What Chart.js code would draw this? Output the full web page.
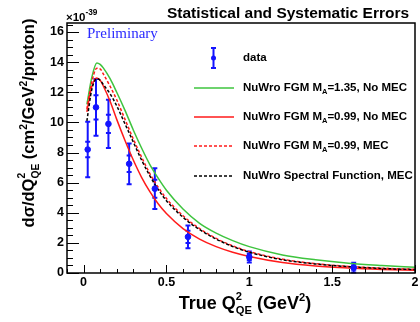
<!DOCTYPE html>
<html>
<head>
<meta charset="utf-8">
<script src="https://cdn.jsdelivr.net/npm/chart.js@4.4.1/dist/chart.umd.min.js"></script>
<style>
  html, body { margin: 0; padding: 0; background: #fff; }
  #wrap { position: relative; width: 420px; height: 322px; overflow: hidden;
          font-family: "Liberation Sans", Arial, sans-serif; font-weight: bold; color: #000; }
  #wrap canvas { position: absolute; left: 0; top: 0; }
  .txt { position: absolute; white-space: nowrap; line-height: 1; }
  .sp { font-size: 0.62em; position: relative; top: -0.72em; }
  .sb { font-size: 0.65em; position: relative; top: 0.35em; }
  .ss { position: relative; display: inline-block; font-size: 0.62em; }
  .ss .s1 { position: absolute; left: 0; top: -0.84em; }
  .ss .s2 { position: relative; top: 0.45em; }
</style>
</head>
<body>
<div id="wrap">
  <canvas id="c" width="420" height="322" style="width:420px;height:322px"></canvas>

  <div class="txt" style="left:167px; top:5px; font-size:15.5px;">Statistical and Systematic Errors</div>
  <div class="txt" style="left:66px; top:12px; font-size:11.5px;">&times;10<span class="sp" style="font-size:0.72em">-39</span></div>
  <div class="txt" style="left:87px; top:26px; font-size:15px; font-family:'Liberation Serif', serif; font-weight:normal; color:#2a2aff;">Preliminary</div>

  <div class="txt" style="left:243px; top:52px; font-size:11.5px;">data</div>
  <div class="txt" style="left:243px; top:82px; font-size:11.5px;">NuWro FGM M<span class="sb">A</span>=1.35, No MEC</div>
  <div class="txt" style="left:243px; top:111px; font-size:11.5px;">NuWro FGM M<span class="sb">A</span>=0.99, No MEC</div>
  <div class="txt" style="left:243px; top:140px; font-size:11.5px;">NuWro FGM M<span class="sb">A</span>=0.99, MEC</div>
  <div class="txt" style="left:243px; top:170px; font-size:11.5px;">NuWro Spectral Function, MEC</div>

  <div class="txt" style="left:95px; top:294px; width:300px; text-align:center; font-size:18px;">True Q<span class="ss"><span class="s1">2</span><span class="s2">QE</span></span> (GeV<span class="sp">2</span>)</div>
  <div class="txt" style="left:-122px; top:113px; width:300px; height:20px; line-height:20px; text-align:center; font-size:16.5px; transform:rotate(-90deg);">d&sigma;/dQ<span class="ss"><span class="s1">2</span><span class="s2">QE</span></span> (cm<span class="sp">2</span>/GeV<span class="sp">2</span>/proton)</div>
</div>

<script>
// curve grid in Q2 (GeV^2) and NuWro predictions (x 1e-39 cm^2/GeV^2/proton)
const qGrid = [0.02, 0.05, 0.08, 0.1, 0.12, 0.16, 0.2, 0.25, 0.3, 0.35, 0.4, 0.45, 0.5, 0.6, 0.7, 0.8, 0.9, 1.0, 1.2, 1.4, 1.6, 1.8, 2.0];
const fgm135NoMec = [11.2, 13.0, 13.95, 13.85, 13.6, 12.9, 12.0, 10.8, 9.5, 8.3, 7.2, 6.3, 5.5, 4.25, 3.3, 2.65, 2.15, 1.75, 1.2, 0.88, 0.65, 0.5, 0.38];
const fgm099NoMec = [10.7, 12.4, 12.95, 12.8, 12.4, 11.4, 10.2, 8.8, 7.5, 6.35, 5.4, 4.6, 3.95, 2.95, 2.25, 1.75, 1.38, 1.1, 0.7, 0.47, 0.33, 0.24, 0.18];
const fgm099Mec = [10.9, 12.7, 13.6, 13.55, 13.2, 12.4, 11.5, 10.2, 8.9, 7.7, 6.6, 5.7, 4.95, 3.8, 2.95, 2.3, 1.8, 1.42, 0.92, 0.62, 0.44, 0.32, 0.25];
const sfMec = [10.1, 12.2, 12.9, 12.8, 12.5, 11.9, 11.1, 9.9, 8.7, 7.5, 6.45, 5.55, 4.8, 3.7, 2.88, 2.25, 1.76, 1.38, 0.88, 0.6, 0.42, 0.3, 0.23];

// measured points
const dataQ = [0.025, 0.075, 0.15, 0.275, 0.43, 0.63, 1.0, 1.63];
const dataXsec = [8.2, 11.0, 9.9, 7.25, 5.6, 2.4, 1.06, 0.36];
const dataTotErr = [1.85, 1.88, 1.6, 1.35, 1.35, 0.75, 0.36, 0.32];
const dataStatErr = [0.52, 0.8, 0.6, 0.55, 0.6, 0.4, 0.2, 0.15];

// axis labels
const xTickVals = [0, 0.5, 1, 1.5, 2];
const xTickLabels = ['0', '0.5', '1', '1.5', '2'];
const yTickVals = [0, 2, 4, 6, 8, 10, 12, 14, 16];
const yTickLabels = ['0', '2', '4', '6', '8', '10', '12', '14', '16'];

const BLUE = '#1414ff';
const GREEN = '#3ec43e';
const RED = '#ff1a1a';

const toPts = (xs, ys) => xs.map((x, i) => ({ x: x, y: ys[i] }));

const curve = (vals, color, dash) => ({
  type: 'line',
  data: toPts(qGrid, vals),
  borderColor: color,
  borderWidth: 1.5,
  borderDash: dash || [],
  pointRadius: 0,
  fill: false,
  cubicInterpolationMode: 'monotone'
});

const rootStyle = {
  id: 'rootStyle',
  beforeDatasetsDraw(chart) {
    // error bars of the data set, total with caps and statistical caps
    const { ctx, scales: { x, y } } = chart;
    ctx.save();
    ctx.strokeStyle = BLUE;
    ctx.lineWidth = 2;
    dataQ.forEach((q, i) => {
      const px = x.getPixelForValue(q);
      const top = y.getPixelForValue(dataXsec[i] + dataTotErr[i]);
      const bot = y.getPixelForValue(dataXsec[i] - dataTotErr[i]);
      const sTop = y.getPixelForValue(dataXsec[i] + dataStatErr[i]);
      const sBot = y.getPixelForValue(dataXsec[i] - dataStatErr[i]);
      ctx.beginPath();
      ctx.moveTo(px, top); ctx.lineTo(px, bot);
      [top, bot, sTop, sBot].forEach(v => { ctx.moveTo(px - 2.5, v); ctx.lineTo(px + 2.5, v); });
      ctx.stroke();
    });
    ctx.restore();
  },
  afterDraw(chart) {
    const { ctx, chartArea: a, scales: { x, y } } = chart;
    ctx.save();
    ctx.strokeStyle = '#000';
    ctx.lineWidth = 1.5;
    ctx.strokeRect(a.left, a.top, a.right - a.left, a.bottom - a.top);
    ctx.lineWidth = 1;
    ctx.beginPath();
    for (let k = 0; k <= 33; k++) {
      const py = Math.round(y.getPixelForValue(k / 2)) + 0.5;
      if (py < a.top) continue;
      ctx.moveTo(a.left, py);
      ctx.lineTo(a.left + (k % 4 === 0 ? 12 : 6), py);
    }
    for (let k = -1; k <= 20; k++) {
      const px = Math.round(x.getPixelForValue(k / 10)) + 0.5;
      if (px <= a.left) continue;
      ctx.moveTo(px, a.bottom);
      ctx.lineTo(px, a.bottom - (k % 5 === 0 ? 8 : 4));
    }
    ctx.stroke();

    // legend samples
    const samples = [
      { c: GREEN, d: [], yy: 88 },
      { c: RED, d: [], yy: 117 },
      { c: RED, d: [3, 2], yy: 146 },
      { c: '#000', d: [3, 2], yy: 176 }
    ];
    ctx.lineWidth = 1.5;
    samples.forEach(s => {
      ctx.strokeStyle = s.c;
      ctx.setLineDash(s.d);
      ctx.beginPath();
      ctx.moveTo(194, s.yy); ctx.lineTo(234, s.yy);
      ctx.stroke();
    });
    ctx.setLineDash([]);
    ctx.strokeStyle = BLUE;
    ctx.lineWidth = 2;
    ctx.beginPath();
    ctx.moveTo(213.5, 48); ctx.lineTo(213.5, 68);
    ctx.moveTo(211, 48); ctx.lineTo(216, 48);
    ctx.moveTo(211, 68); ctx.lineTo(216, 68);
    ctx.stroke();
    ctx.fillStyle = BLUE;
    ctx.beginPath();
    ctx.arc(213.5, 58, 2.5, 0, Math.PI * 2);
    ctx.fill();
    ctx.restore();
  }
};

const tickFont = { family: "'Liberation Sans', Arial, sans-serif", size: 12.5, weight: 'bold' };

new Chart(document.getElementById('c'), {
  type: 'scatter',
  data: {
    datasets: [
      {
        label: 'data',
        data: toPts(dataQ, dataXsec),
        backgroundColor: BLUE,
        borderColor: BLUE,
        pointRadius: 2.8,
        showLine: false
      },
      curve(sfMec, '#000', [3, 2]),
      curve(fgm099Mec, RED, [3, 2]),
      curve(fgm099NoMec, RED),
      curve(fgm135NoMec, GREEN)
    ]
  },
  options: {
    responsive: false,
    animation: false,
    devicePixelRatio: 1,
    layout: { padding: { left: 27, top: 23, right: 1, bottom: 24 } },
    plugins: { legend: { display: false }, tooltip: { enabled: false } },
    scales: {
      x: {
        type: 'linear', min: -0.1, max: 2.0,
        grid: { display: false, drawTicks: false },
        border: { display: false },
        afterBuildTicks: s => { s.ticks = xTickVals.map(v => ({ value: v })); },
        afterFit: s => { s.height = 25; s.paddingLeft = 0; s.paddingRight = 0; },
        ticks: { callback: (v, i) => xTickLabels[i], font: tickFont, color: '#000', padding: 2, maxRotation: 0, autoSkip: false }
      },
      y: {
        type: 'linear', min: 0, max: 16.6,
        grid: { display: false, drawTicks: false },
        border: { display: false },
        afterBuildTicks: s => { s.ticks = yTickVals.map(v => ({ value: v })); },
        afterFit: s => { s.width = 40; s.paddingTop = 0; s.paddingBottom = 0; },
        ticks: { callback: (v, i) => yTickLabels[i], font: tickFont, color: '#000', padding: 3, autoSkip: false }
      }
    }
  },
  plugins: [rootStyle]
});
</script>
</body>
</html>
